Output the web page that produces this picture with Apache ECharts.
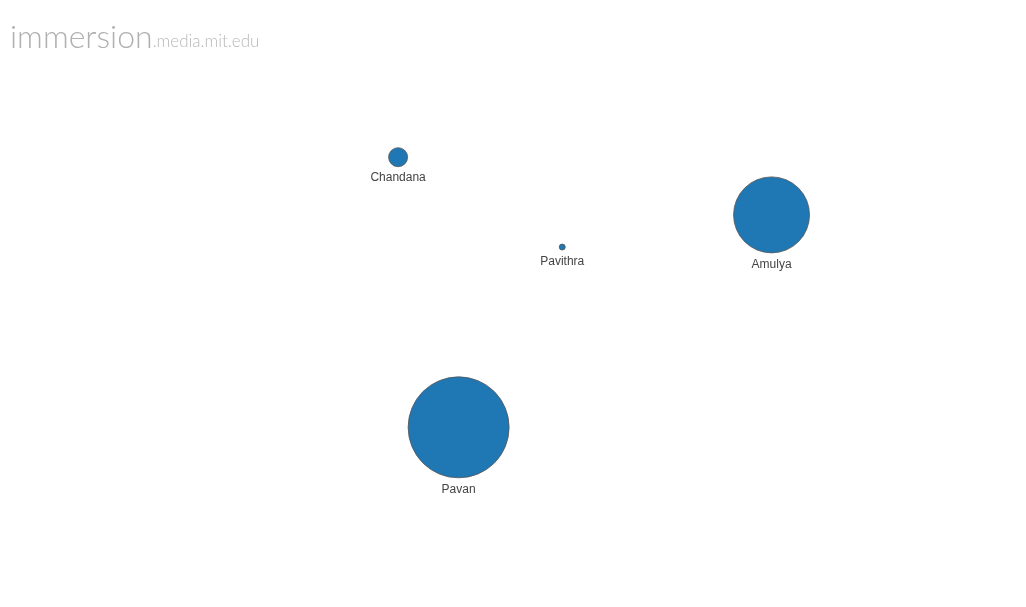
<!DOCTYPE html>
<html>
<head>
<meta charset="utf-8">
<script src="https://cdn.jsdelivr.net/npm/echarts@6/dist/echarts.min.js"></script>
<style>
html,body{margin:0;padding:0;background:#fff;}
#main{width:1026px;height:607px;}
</style>
</head>
<body>
<div id="main"></div>
<script>
// Contacts (people), their position in the layout space (0-100) and bubble diameter
var names = ['Chandana', 'Pavithra', 'Amulya', 'Pavan'];
var xs = [38.8, 54.8, 75.2, 44.7];
var ys = [25.9, 40.7, 35.4, 70.4];
var sizes = [19, 6, 76, 101];

var data = names.map(function (n, i) { return { name: n, value: [xs[i], ys[i], sizes[i]] }; });

var chart = echarts.init(document.getElementById('main'));
chart.setOption({
  backgroundColor: '#ffffff',
  animation: false,
  title: {
    left: 5,
    top: 13,
    text: '{a|immersion}{b|.media.mit.edu}',
    textStyle: {
      rich: {
        a: { fontFamily: 'Lato', fontWeight: 300, fontSize: 32, color: '#b0b0b0', verticalAlign: 'bottom', lineHeight: 36 },
        b: { fontFamily: 'Lato', fontWeight: 300, fontSize: 17, color: '#b8b8b8', verticalAlign: 'bottom', lineHeight: 36, padding: [0, 0, 4, 0] }
      }
    }
  },
  grid: { left: 0, right: 0, top: 0, bottom: 0 },
  xAxis: { type: 'value', min: 0, max: 100, show: false },
  yAxis: { type: 'value', min: 0, max: 100, inverse: true, show: false },
  series: [{
    type: 'scatter',
    data: data,
    symbolSize: function (v) { return v[2]; },
    itemStyle: { color: '#1f77b4', borderColor: '#555', borderWidth: 0.8, opacity: 1 },
    label: {
      show: true,
      position: 'bottom',
      distance: 5,
      formatter: '{b}',
      fontFamily: 'Arial, Liberation Sans, sans-serif',
      fontSize: 12,
      color: '#444'
    },
    emphasis: { disabled: true }
  }]
});
</script>
</body>
</html>
